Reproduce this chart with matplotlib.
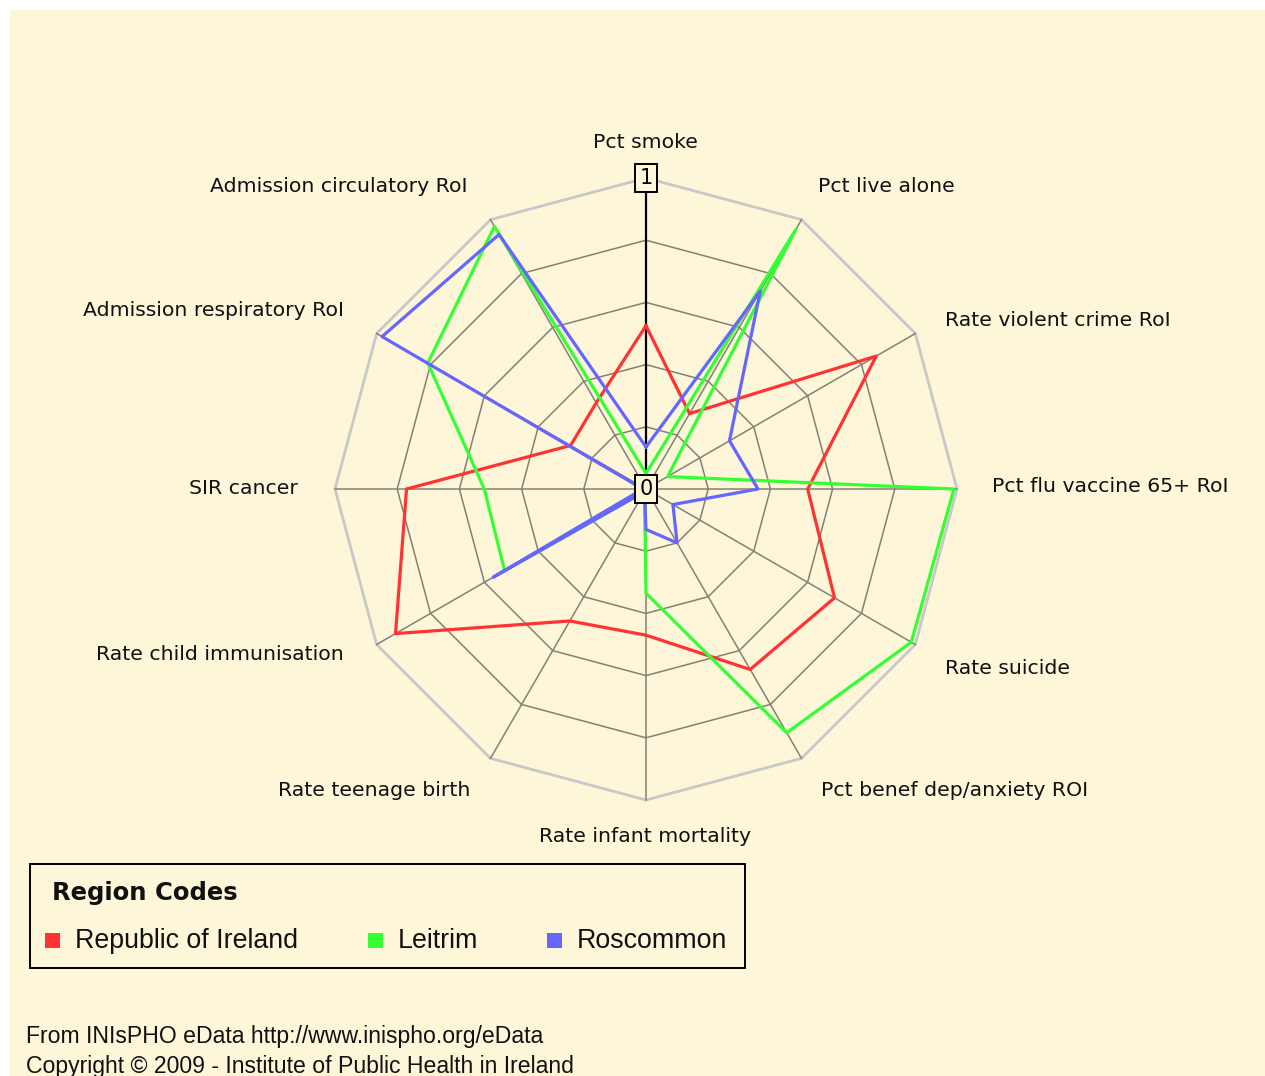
import numpy as np
from matplotlib import pyplot as plt
from matplotlib.patches import Rectangle

# data (scaled 0..1 index values)
categories = ['Pct smoke', 'Pct live alone', 'Rate violent crime RoI',
              'Pct flu vaccine 65+ RoI', 'Rate suicide', 'Pct benef dep/anxiety ROI',
              'Rate infant mortality', 'Rate teenage birth', 'Rate child immunisation',
              'SIR cancer', 'Admission respiratory RoI', 'Admission circulatory RoI']
roi = [0.525, 0.28, 0.855, 0.52, 0.70, 0.67, 0.47, 0.49, 0.93, 0.77, 0.28, 0.32]
leitrim = [0.05, 0.965, 0.08, 0.99, 0.985, 0.905, 0.335, 0.01, 0.525, 0.52, 0.81, 0.975]
roscommon = [0.135, 0.735, 0.31, 0.36, 0.10, 0.20, 0.13, 0.01, 0.567, 0.01, 0.98, 0.945]
series_names = ['Republic of Ireland', 'Leitrim', 'Roscommon']
series_colors = ['#ff3333', '#33ff33', '#6666ff']
rings = [0.2, 0.4, 0.6, 0.8, 1.0]

W, H = 1265, 1076
BG = '#fdf6d9'


def fx(x):
    return x / W


def fy(y):
    return 1 - y / H


fig = plt.figure(figsize=(W / 100, H / 100), dpi=100, facecolor='white')
fig.patches.append(Rectangle((fx(10), 0), 1, fy(10), transform=fig.transFigure,
                             facecolor=BG, edgecolor='none', zorder=-10))

# polar axes centred at (646, 489) px with radius 311 px
cx, cy, R = 646, 489, 311
ax = fig.add_axes([fx(cx - R), fy(cy + R), 2 * R / W, 2 * R / H], projection='polar')
ax.set_theta_zero_location('N')
ax.set_theta_direction(-1)
ax.set_ylim(0, 1)
ax.set_facecolor('none')
ax.grid(False)
ax.set_xticks([])
ax.set_yticks([])
ax.spines['polar'].set_visible(False)

n = len(categories)
theta = np.arange(n) * 2 * np.pi / n
theta_c = np.append(theta, theta[0])

# grid
for r in rings:
    if r == 1.0:
        ax.plot(theta_c, [r] * (n + 1), color='#c8c8c8', lw=2.0, clip_on=False, zorder=1)
    else:
        ax.plot(theta_c, [r] * (n + 1), color='#858172', lw=1.1, clip_on=False, zorder=1)
for i, t in enumerate(theta):
    if i == 0:
        ax.plot([t, t], [0, 1], color='black', lw=1.6, clip_on=False, zorder=2)
    else:
        ax.plot([t, t], [0, 1], color='#858172', lw=1.1, clip_on=False, zorder=1)

# series
for vals, col in zip([roi, leitrim, roscommon], series_colors):
    v = np.append(vals, vals[0])
    ax.plot(theta_c, v, color=col, lw=2.3, clip_on=False, zorder=3)

# scale boxes
box = dict(boxstyle='square,pad=0.2', facecolor=BG, edgecolor='black', lw=1.4)
ax.text(0, 1.0, '1', ha='center', va='center', fontsize=15, bbox=box, zorder=5,
        clip_on=False)
ax.text(0, 0, '0', ha='center', va='center', fontsize=15, bbox=box, zorder=5)

# axis labels
label_pos = [(645, 143, 'center'), (818, 187, 'left'), (945, 320, 'left'),
             (992, 487, 'left'), (945, 668, 'left'), (821, 791, 'left'),
             (645, 836, 'center'), (470, 791, 'right'), (344, 655, 'right'),
             (298, 489, 'right'), (344, 310, 'right'), (468, 187, 'right')]
for name, (x, y, ha) in zip(categories, label_pos):
    fig.text(fx(x), fy(y), name, ha=ha, va='center', fontsize=14.7, color='#111111')

# legend box
fig.patches.append(Rectangle((fx(30), fy(968)), fx(745) - fx(30), fy(864) - fy(968),
                             transform=fig.transFigure, facecolor='none',
                             edgecolor='black', lw=1.4))
fig.text(fx(52), fy(893), 'Region Codes', ha='left', va='center', fontsize=17.5,
         fontweight='bold', color='#111111')
leg_x = [45, 368, 547]
for name, col, x in zip(series_names, series_colors, leg_x):
    fig.patches.append(Rectangle((fx(x), fy(948)), 15 / W, 15 / H,
                                 transform=fig.transFigure, facecolor=col,
                                 edgecolor='none'))
    fig.text(fx(x + 30), fy(941), name, ha='left', va='center', fontsize=19.3,
             family='Liberation Sans', color='#111111')

# footer
fig.text(fx(26), fy(1036), 'From INIsPHO eData http://www.inispho.org/eData',
         ha='left', va='center', fontsize=16.6, family='Liberation Sans', color='#111111')
fig.text(fx(26), fy(1067), 'Copyright \u00a9 2009 - Institute of Public Health in Ireland',
         ha='left', va='center', fontsize=16.6, family='Liberation Sans', color='#111111')

fig.savefig('out.png', dpi=100, facecolor=fig.get_facecolor())
